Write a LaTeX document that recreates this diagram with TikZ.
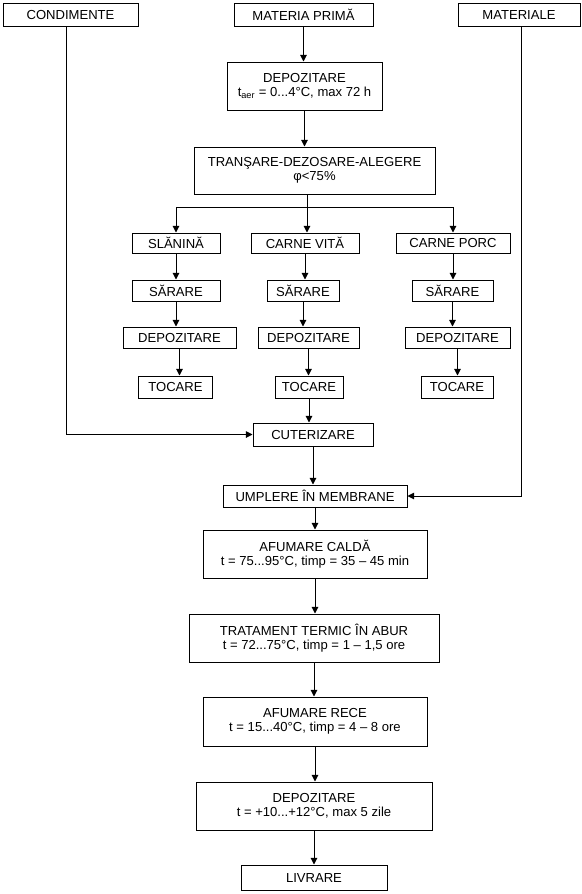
\documentclass[tikz,border=0pt]{standalone}
\usepackage{fontspec}
\setmainfont{Liberation Sans}
\usetikzlibrary{arrows.meta,positioning}

\begin{document}
\begin{tikzpicture}[x=0.75pt,y=-0.75pt,font=\fontsize{9.8}{10.6}\selectfont,
  box/.style={draw=black,line width=0.75pt,fill=white,inner sep=0pt,align=center},
  wh/.style 2 args={minimum width=#1*0.75pt,minimum height=#2*0.75pt},
  arr/.style={-{Triangle[length=5pt,width=5pt]},line width=0.75pt}]
  \useasboundingbox (0,0) rectangle (582,894);

  % inputs
  \node[box,wh={135}{23}] (cond) at (70.5,14.5)  {CONDIMENTE};
  \node[box,wh={139}{23}] (mat)  at (303.5,14.5) {MATERIA PRIMĂ};
  \node[box,wh={122}{23}] (matl) at (519,14.5)   {MATERIALE};

  % reception
  \node[box,wh={155}{48}] (depo) at (304.5,86)  {DEPOZITARE\\t\textsubscript{aer} = 0...4°C, max 72 h};
  \node[box,wh={241}{47}] (tran) at (314.5,170.5) {TRANŞARE-DEZOSARE-ALEGERE\\φ<75\%};
  \coordinate (br) at (307,207);

  % three lines
  \node[box,wh={88}{20}]  (sl)   at (176,243)   {SLĂNINĂ};
  \node[box,wh={108}{20}] (vit)  at (305,243)   {CARNE VITĂ};
  \node[box,wh={114}{20}] (por)  at (453,243)   {CARNE PORC};
  \node[box,wh={88}{21}]  (ssl)  at (176,290.5) {SĂRARE};
  \node[box,wh={72}{21}]  (svit) at (303,290.5) {SĂRARE};
  \node[box,wh={81}{21}]  (spor) at (452.5,290.5) {SĂRARE};
  \node[box,wh={113}{21}] (dsl)  at (179.5,337.5) {DEPOZITARE};
  \node[box,wh={101}{21}] (dvit) at (308.5,337.5) {DEPOZITARE};
  \node[box,wh={105}{21}] (dpor) at (457.5,337.5) {DEPOZITARE};
  \node[box,wh={74}{22}]  (tsl)  at (175.5,387) {TOCARE};
  \node[box,wh={68}{22}]  (tvit) at (309,387)   {TOCARE};
  \node[box,wh={72}{22}]  (tpor) at (457,387)   {TOCARE};

  % main line
  \node[box,wh={120}{23}] (cut)  at (313,434.5) {CUTERIZARE};
  \node[box,wh={184}{22}] (ump)  at (315,496)   {UMPLERE ÎN MEMBRANE};
  \node[box,wh={224}{48}] (afc)  at (315,554)   {AFUMARE CALDĂ\\t = 75...95°C, timp = 35 – 45 min};
  \node[box,wh={250}{48}] (trat) at (314,638)   {TRATAMENT TERMIC ÎN ABUR\\t = 72...75°C, timp = 1 – 1,5 ore};
  \node[box,wh={224}{49}] (afr)  at (315,721.5) {AFUMARE RECE\\t = 15...40°C, timp = 4 – 8 ore};
  \node[box,wh={236}{48}] (depf) at (314,806)   {DEPOZITARE\\t = +10...+12°C, max 5 zile};
  \node[box,wh={146}{25}] (liv)  at (314,877.5) {LIVRARE};

  \draw[arr] (mat) -- (mat |- depo.north);
  \draw[arr] (depo) -- (depo |- tran.north);
  \draw[line width=0.75pt] (tran.south -| br) -- (br);
  \draw[arr] (br) -| (sl);
  \draw[arr] (br) -- (br |- vit.north);
  \draw[arr] (br) -| (por);
  \foreach \a/\b in {sl/ssl,ssl/dsl,dsl/tsl,vit/svit,svit/dvit,dvit/tvit,
                     por/spor,spor/dpor,dpor/tpor,tvit/cut,cut/ump,ump/afc,
                     afc/trat,trat/afr,afr/depf,depf/liv}
    \draw[arr] (\a) -- (\a |- \b.north);
  \draw[arr] ([xshift=-3pt]cond.south) |- (cut);
  \draw[arr] ([xshift=2pt]matl.south) |- (ump);
\end{tikzpicture}
\end{document}
